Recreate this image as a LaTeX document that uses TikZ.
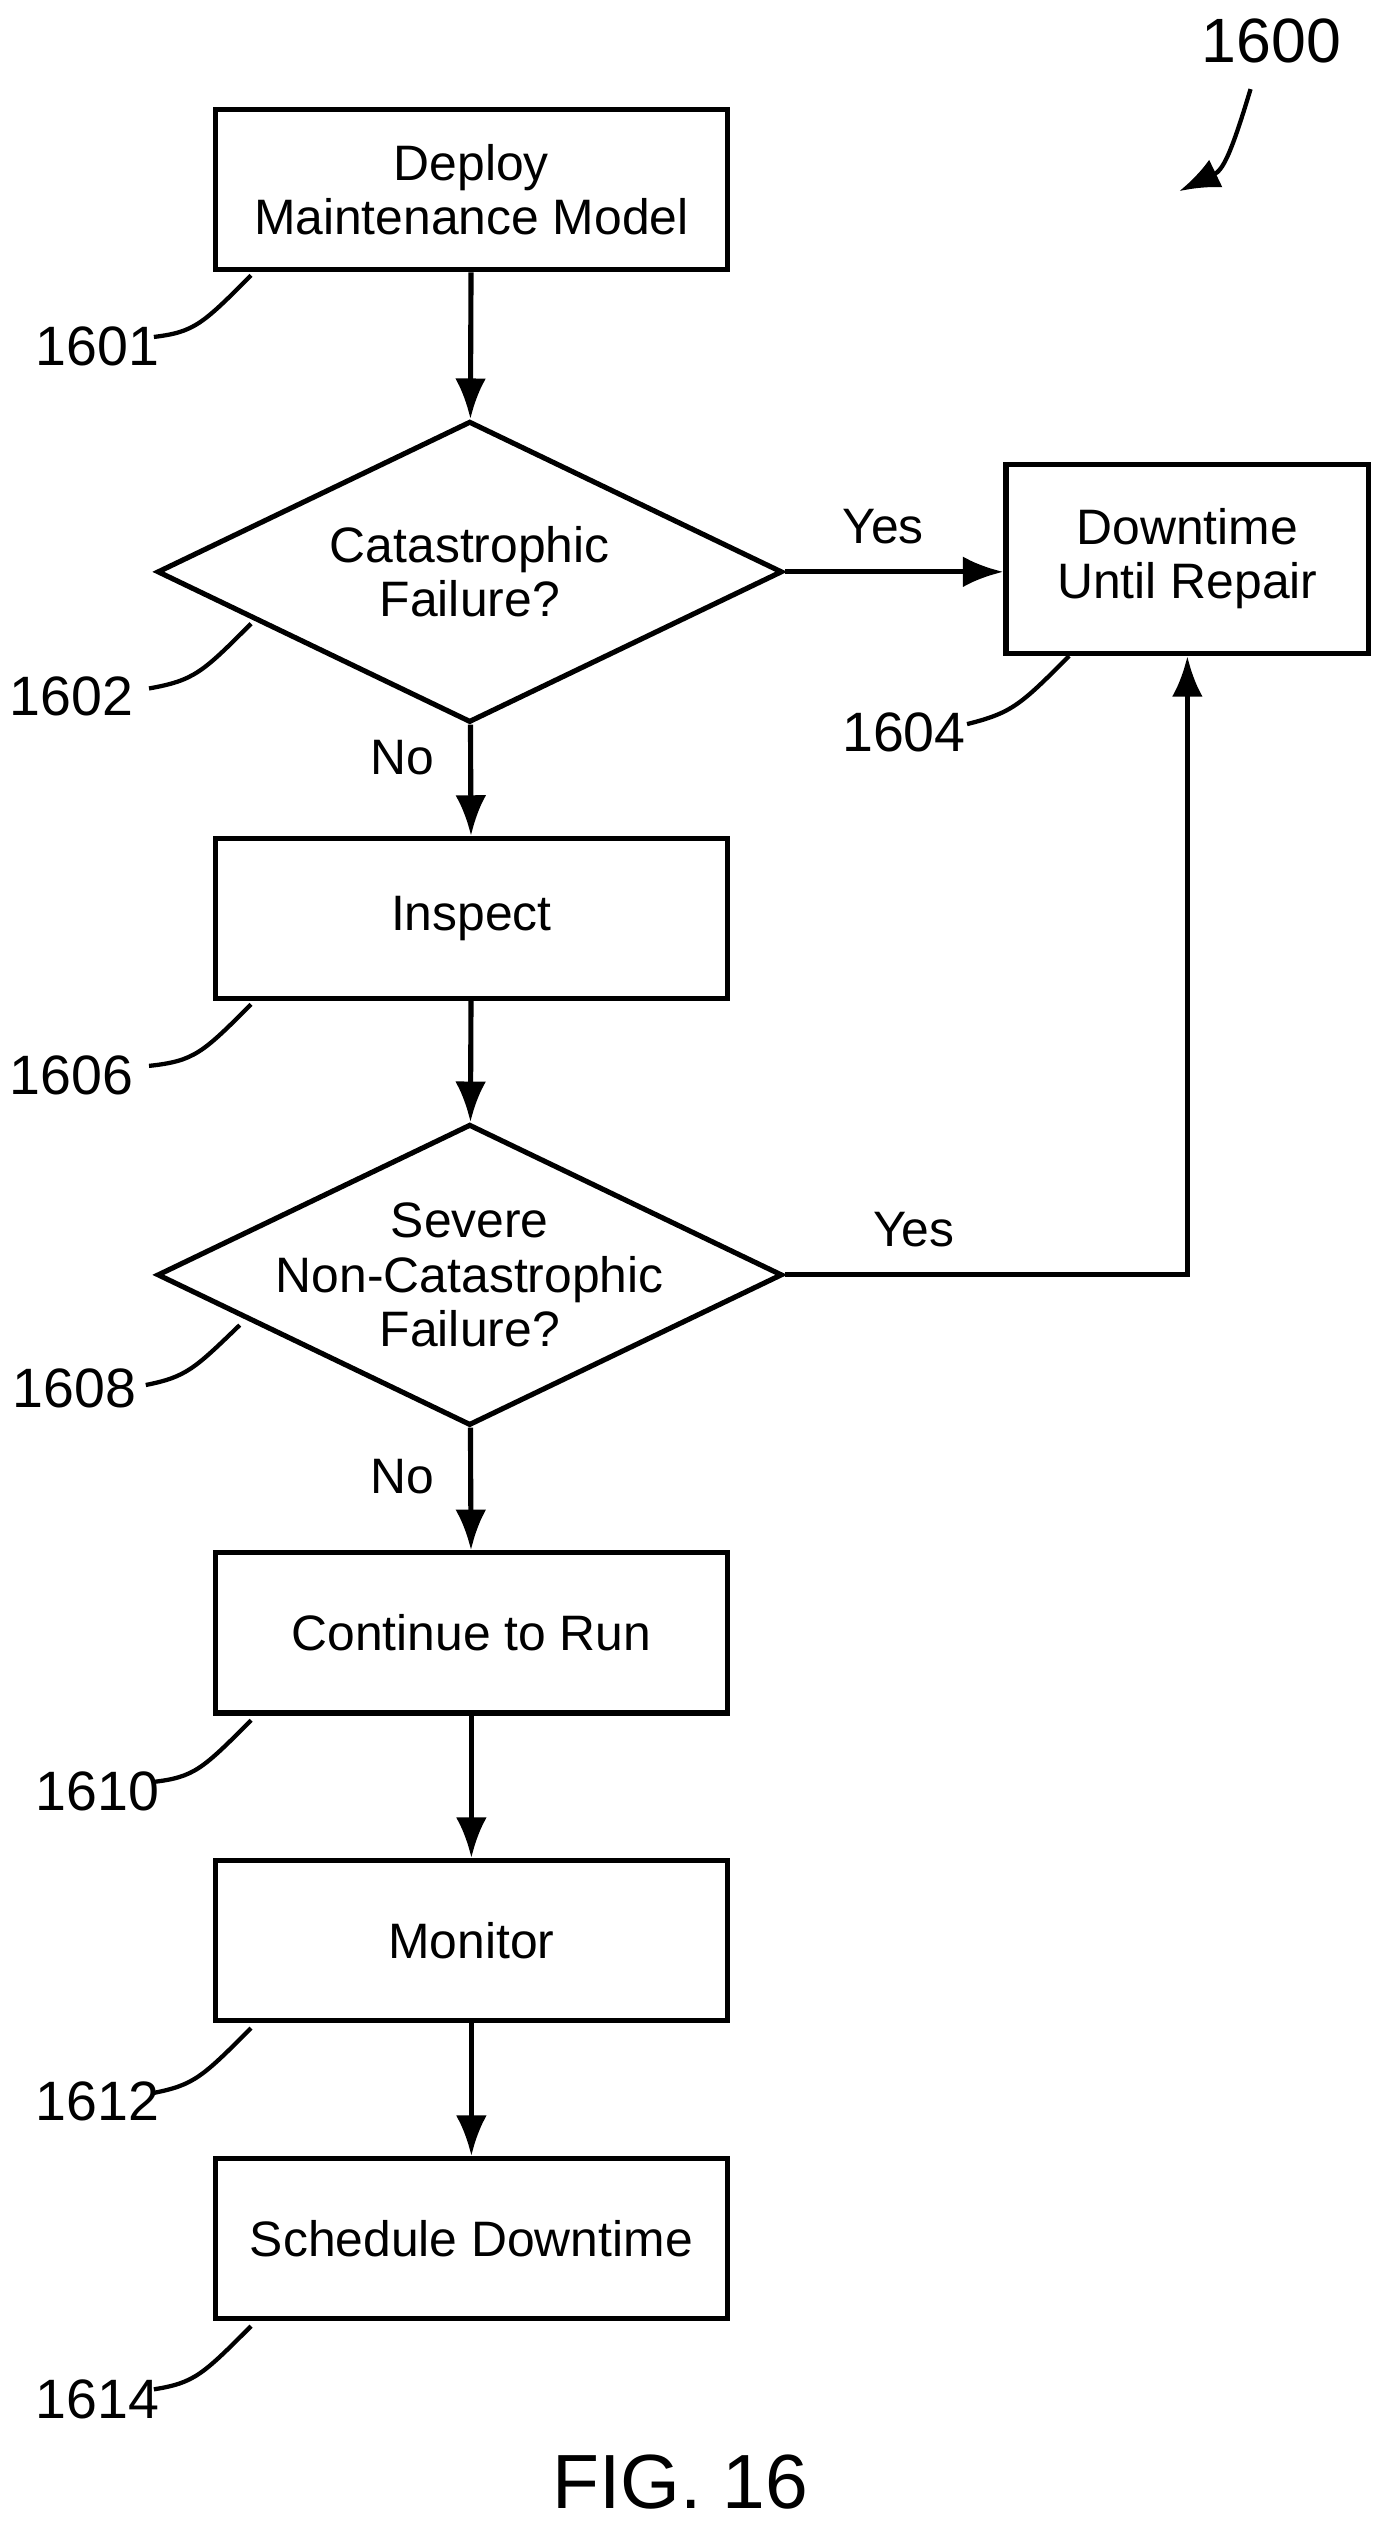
\documentclass[tikz,border=0pt]{standalone}
\usepackage{fontspec}
\setmainfont{Liberation Sans}
\usetikzlibrary{arrows.meta,shapes.geometric}
\begin{document}
\begin{tikzpicture}[x=0.02cm,y=-0.02cm,line width=1.8pt,
    font=\fontsize{17.5}{19}\selectfont,
    box/.style={draw,minimum width=6.32cm,minimum height=1.98cm,align=center},
    dec/.style={draw,diamond,aspect=2.075,minimum width=7.72cm,minimum height=3.72cm,inner sep=0pt,align=center},
    arr/.style={-{Latex[length=5mm,width=3.8mm]}},
    num/.style={font=\fontsize{19.5}{22}\selectfont},
    lead/.style={line width=1.5pt}]
                    \useasboundingbox (0,0) rectangle (855,1560);
                    \node[box] (deploy) at (291,117) {Deploy\\Maintenance Model};
                    \node[dec] (cat) at (290,353) {Catastrophic\\Failure?};
                    \node[box,minimum width=4.48cm,minimum height=2.34cm] (down) at (733,345) {Downtime\\Until Repair};
                    \node[box] (inspect) at (291,567) {Inspect};
                    \node[dec,label={[align=center]center:Severe\\Non-Catastrophic\\Failure?}] (sev) at (290,787) {};
                    \node[box] (cont) at (291,1008) {Continue to Run};
                    \node[box] (mon) at (291,1198) {Monitor};
                    \node[box] (sched) at (291,1382) {Schedule Downtime};
                    % arrows
                    \draw[arr] (deploy) -- (cat);
                    \draw[arr] (cat) -- (inspect) node[pos=.3,left=3mm] {No};
                    \draw[arr] (cat.east) -- (cat.east -| down.west) node[pos=.45,above=2mm] {Yes};
                    \draw[arr] (inspect) -- (sev);
                    \draw[arr] (sev.east) -| (down.south) node[pos=.16,above=2mm] {Yes};
                    \draw[arr] (sev) -- (cont) node[pos=.4,left=3mm] {No};
                    \draw[arr] (cont) -- (mon);
                    \draw[arr] (mon) -- (sched);
                    % reference numerals
                    \node[font=\fontsize{22}{26}\selectfont] (n1600) at (785,25) {1600};
                    \draw[arr,line width=1.5pt] (772,55) .. controls (760,95) and (755,105) .. (728,118);
                    \node[num] (n1601) at (60,214) {1601};
                    \draw[lead] (155,170) .. controls (125,200) and (120,205) .. (95,208);
                    \node[num] (n1602) at (44,430) {1602};
                    \draw[lead] (155,385) .. controls (125,415) and (120,420) .. (92,425);
                    \node[num] (n1604) at (558,452) {1604};
                    \draw[lead] (660,405) .. controls (630,435) and (625,440) .. (597,447);
                    \node[num] (n1606) at (44,664) {1606};
                    \draw[lead] (155,620) .. controls (125,650) and (120,655) .. (92,658);
                    \node[num] (n1608) at (46,857) {1608};
                    \draw[lead] (148,818) .. controls (120,845) and (115,850) .. (90,855);
                    \node[num] (n1610) at (60,1106) {1610};
                    \draw[lead] (155,1062) .. controls (125,1092) and (120,1097) .. (95,1100);
                    \node[num] (n1612) at (60,1297) {1612};
                    \draw[lead] (155,1252) .. controls (125,1282) and (120,1287) .. (95,1292);
                    \node[num] (n1614) at (60,1481) {1614};
                    \draw[lead] (155,1436) .. controls (125,1466) and (120,1471) .. (95,1475);
                    \node (fig) at (420,1532) {\fontsize{27}{32}\selectfont FIG. 16};
                \end{tikzpicture}
\end{document}
